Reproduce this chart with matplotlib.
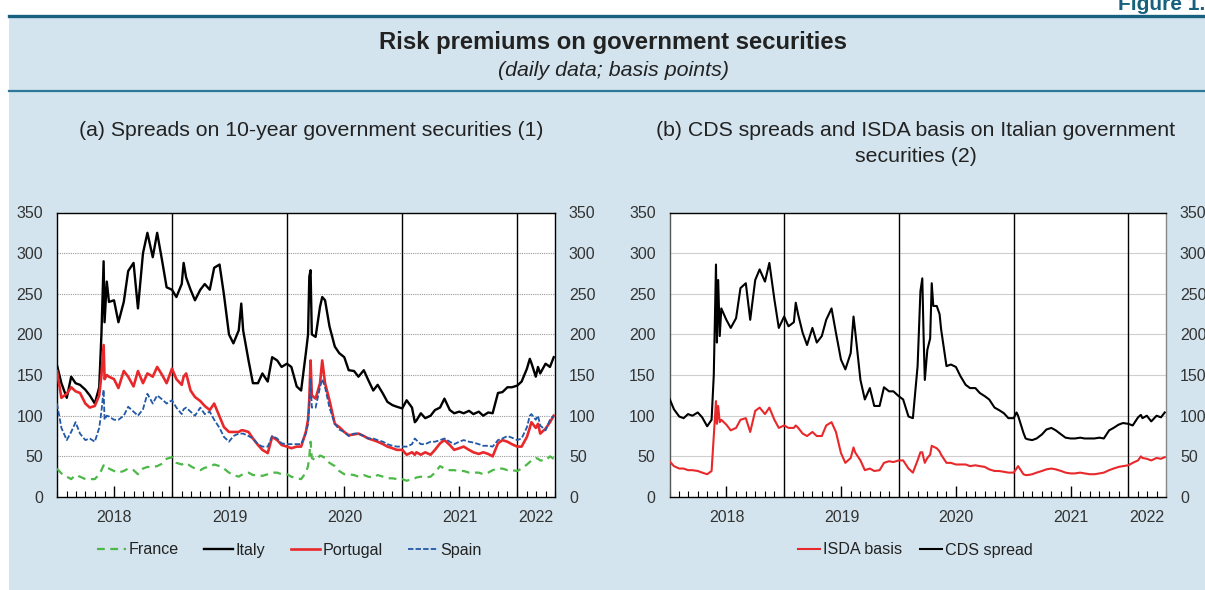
import matplotlib
matplotlib.use('Agg')
import matplotlib.pyplot as plt
import matplotlib.dates as mdates
import matplotlib.transforms as mtransforms
from matplotlib.patches import Rectangle
from matplotlib.lines import Line2D
import pandas as pd

plt.rcParams['font.family'] = ['Liberation Sans', 'DejaVu Sans']

# ---------------- data ----------------
dates_a = [
    "2018-01-01", "2018-01-15", "2018-02-01", "2018-02-15", "2018-03-01", "2018-03-15", "2018-04-01",
    "2018-04-15", "2018-05-01", "2018-05-15", "2018-05-22", "2018-05-29", "2018-06-01", "2018-06-08",
    "2018-06-15", "2018-07-01", "2018-07-15", "2018-08-01", "2018-08-15", "2018-09-01", "2018-09-15",
    "2018-10-01", "2018-10-15", "2018-11-01", "2018-11-15", "2018-12-01", "2018-12-15",
    "2019-01-01", "2019-01-15", "2019-02-01", "2019-02-07", "2019-02-15", "2019-03-01", "2019-03-15",
    "2019-04-01", "2019-04-15", "2019-05-01", "2019-05-15", "2019-06-01", "2019-06-15", "2019-07-01",
    "2019-07-15", "2019-08-01", "2019-08-09", "2019-08-15", "2019-09-01", "2019-09-15", "2019-10-01",
    "2019-10-15", "2019-11-01", "2019-11-15", "2019-12-01", "2019-12-15",
    "2020-01-01", "2020-01-15", "2020-02-01", "2020-02-15", "2020-03-01", "2020-03-08", "2020-03-12",
    "2020-03-16", "2020-03-20", "2020-04-01", "2020-04-15", "2020-04-22", "2020-05-01", "2020-05-15",
    "2020-06-01", "2020-06-15", "2020-07-01", "2020-07-15", "2020-08-01", "2020-08-15", "2020-09-01",
    "2020-09-15", "2020-10-01", "2020-10-15", "2020-11-01", "2020-11-15", "2020-12-01", "2020-12-15",
    "2021-01-01", "2021-01-15", "2021-02-01", "2021-02-10", "2021-02-15", "2021-03-01", "2021-03-15",
    "2021-04-01", "2021-04-15", "2021-05-01", "2021-05-15", "2021-06-01", "2021-06-15", "2021-07-01",
    "2021-07-15", "2021-08-01", "2021-08-15", "2021-09-01", "2021-09-15", "2021-10-01", "2021-10-15",
    "2021-11-01", "2021-11-15", "2021-12-01", "2021-12-15",
    "2022-01-01", "2022-01-15", "2022-02-01", "2022-02-10", "2022-02-15", "2022-03-01", "2022-03-08",
    "2022-03-15", "2022-04-01", "2022-04-15", "2022-04-27",
]

italy = [
    162, 140, 122, 148, 140, 138, 132, 125, 115, 135, 200, 290, 215, 265, 240, 242, 215, 240, 278, 288,
    232, 300, 325, 295, 325, 290, 258,
    255, 246, 262, 288, 270, 255, 242, 255, 262, 255, 282, 286, 249, 200, 189, 205, 238, 205, 168, 140,
    140, 152, 142, 172, 168, 160,
    164, 160, 136, 131, 177, 200, 271, 279, 200, 197, 234, 246, 242, 210, 185, 177, 172, 156, 155, 148,
    156, 144, 131, 138, 127, 117, 113, 111,
    109, 119, 110, 92, 94, 103, 97, 100, 107, 110, 121, 107, 103, 105, 103, 106, 102, 105, 100, 104,
    103, 128, 129, 135, 135,
    137, 142, 158, 170, 165, 148, 160, 152, 164, 160, 172,
]

portugal = [
    155, 122, 127, 135, 130, 128, 115, 110, 112, 125, 150, 187, 145, 150, 148, 145, 134, 155, 148, 136,
    155, 140, 152, 148, 160, 150, 140,
    158, 145, 138, 148, 152, 131, 123, 118, 112, 107, 115, 99, 86, 80, 80, 80, 82, 82, 80, 72, 64, 58,
    54, 74, 70, 64,
    62, 60, 62, 62, 80, 95, 120, 168, 125, 121, 140, 168, 140, 119, 90, 86, 80, 76, 77, 78, 75, 72, 70,
    68, 65, 62, 60, 58,
    58, 52, 55, 52, 55, 52, 55, 52, 58, 66, 70, 64, 58, 60, 62, 58, 55, 53, 55, 53, 50, 66, 70, 68, 65,
    62, 62, 74, 85, 92, 85, 90, 78, 84, 92, 100,
]

spain = [
    115, 85, 70, 80, 92, 78, 70, 72, 68, 85, 105, 132, 95, 100, 99, 95, 95, 100, 111, 105, 100, 108,
    127, 115, 125, 120, 115,
    119, 110, 102, 108, 110, 105, 100, 110, 102, 105, 95, 85, 74, 68, 75, 78, 78, 78, 75, 72, 65, 62,
    62, 75, 72, 66,
    65, 65, 65, 65, 78, 90, 115, 146, 110, 110, 135, 145, 135, 110, 90, 83, 80, 75, 78, 78, 75, 72, 72,
    70, 68, 65, 63, 62,
    62, 62, 65, 72, 70, 65, 65, 68, 68, 70, 72, 68, 65, 68, 70, 68, 67, 65, 63, 63, 62, 70, 72, 75, 73,
    70, 72, 86, 100, 102, 95, 100, 88, 82, 95, 100,
]

france = [
    35, 29, 25, 22, 27, 25, 22, 22, 22, 28, 33, 39, 36, 36, 35, 32, 30, 32, 35, 33, 28, 35, 37, 37, 38,
    41, 47,
    49, 42, 40, 41, 42, 38, 35, 33, 36, 37, 40, 38, 35, 30, 27, 25, 27, 28, 30, 27, 27, 26, 28, 30, 30,
    28,
    28, 25, 23, 22, 30, 38, 50, 68, 48, 45, 51, 50, 48, 42, 38, 32, 28, 28, 27, 25, 27, 25, 24, 27, 25,
    23, 23, 22,
    22, 20, 22, 23, 24, 25, 24, 25, 30, 38, 35, 33, 33, 32, 32, 30, 30, 30, 28, 30, 33, 35, 35, 33, 33,
    32, 35, 40, 43, 45, 48, 47, 45, 45, 50, 47,
]

dates_b = [
    "2018-01-01", "2018-01-15", "2018-02-01", "2018-02-15", "2018-03-01", "2018-03-15", "2018-04-01",
    "2018-04-15", "2018-05-01", "2018-05-15", "2018-05-22", "2018-05-29", "2018-06-01", "2018-06-05",
    "2018-06-10", "2018-06-15", "2018-07-01", "2018-07-15", "2018-08-01", "2018-08-15", "2018-09-01",
    "2018-09-15", "2018-10-01", "2018-10-15", "2018-11-01", "2018-11-15", "2018-12-01", "2018-12-15",
    "2019-01-01", "2019-01-15", "2019-02-01", "2019-02-07", "2019-02-15", "2019-03-01", "2019-03-15",
    "2019-04-01", "2019-04-15", "2019-05-01", "2019-05-15", "2019-06-01", "2019-06-15", "2019-07-01",
    "2019-07-15", "2019-08-01", "2019-08-10", "2019-08-15", "2019-09-01", "2019-09-15", "2019-10-01",
    "2019-10-15", "2019-11-01", "2019-11-15", "2019-12-01", "2019-12-15",
    "2020-01-01", "2020-01-15", "2020-02-01", "2020-02-15", "2020-03-01", "2020-03-10", "2020-03-16",
    "2020-03-20", "2020-03-24", "2020-04-01", "2020-04-10", "2020-04-15", "2020-04-20", "2020-05-01",
    "2020-05-10", "2020-05-15", "2020-06-01", "2020-06-15", "2020-07-01", "2020-07-15", "2020-08-01",
    "2020-08-15", "2020-09-01", "2020-09-15", "2020-10-01", "2020-10-15", "2020-11-01", "2020-11-15",
    "2020-12-01", "2020-12-15",
    "2021-01-01", "2021-01-10", "2021-01-15", "2021-02-01", "2021-02-08", "2021-02-15", "2021-03-01",
    "2021-03-15", "2021-04-01", "2021-04-15", "2021-05-01", "2021-05-15", "2021-06-01", "2021-06-15",
    "2021-07-01", "2021-07-15", "2021-08-01", "2021-08-15", "2021-09-01", "2021-09-15", "2021-10-01",
    "2021-10-15", "2021-11-01", "2021-11-15", "2021-12-01", "2021-12-15",
    "2022-01-01", "2022-01-15", "2022-02-01", "2022-02-10", "2022-02-15", "2022-03-01", "2022-03-15",
    "2022-04-01", "2022-04-15", "2022-04-27",
]

cds_spread = [
    121, 108, 99, 97, 102, 100, 104, 98, 87, 95, 150, 286, 190, 267, 198, 232, 218, 208, 220, 257, 263,
    218, 267, 280, 265, 288, 243, 208,
    222, 210, 215, 239, 224, 202, 187, 208, 190, 198, 218, 232, 202, 169, 157, 177, 222, 205, 144, 120,
    134, 112, 112, 135, 130, 130,
    124, 120, 99, 97, 161, 253, 269, 200, 144, 181, 195, 263, 235, 235, 225, 206, 161, 163, 160, 149,
    138, 134, 134, 128, 124, 120, 110, 107, 103, 97,
    97, 104, 100, 79, 72, 71, 70, 72, 77, 83, 85, 82, 77, 73, 72, 72, 73, 72, 72, 72, 73, 72, 82, 85,
    89, 91,
    90, 88, 98, 101, 97, 100, 93, 100, 98, 104,
]

isda_basis = [
    44, 38, 35, 35, 33, 33, 32, 30, 28, 32, 75, 118, 90, 112, 92, 95, 89, 82, 85, 95, 97, 80, 106, 110,
    102, 110, 95, 85,
    88, 85, 85, 88, 85, 78, 75, 80, 75, 75, 88, 92, 80, 54, 42, 48, 61, 55, 45, 33, 35, 32, 33, 42, 44,
    43,
    45, 45, 35, 30, 45, 55, 55, 48, 42, 48, 52, 63, 62, 60, 56, 52, 42, 42, 40, 40, 40, 38, 39, 38, 37,
    34, 32, 32, 31, 30,
    30, 35, 38, 28, 27, 27, 28, 30, 32, 34, 35, 34, 32, 30, 29, 29, 30, 29, 28, 28, 29, 30, 33, 35, 37,
    38,
    39, 42, 45, 50, 48, 47, 45, 48, 47, 49,
]

years = [2018, 2019, 2020, 2021, 2022]
year_labels = ["2018", "2019", "2020", "2021", "2022"]
y_ticks = [0, 50, 100, 150, 200, 250, 300, 350]

title = "Risk premiums on government securities"
subtitle = "(daily data; basis points)"
title_a = "(a) Spreads on 10-year government securities (1)"
title_b = "(b) CDS spreads and ISDA basis on Italian government\nsecurities (2)"

# ---------------- styling ----------------
BG = '#d3e4ee'
TEAL = '#17617f'
TEAL2 = '#2d7898'
TXT = '#333333'
RED = '#e8282b'
GREEN = '#4cb848'
BLUE = '#2158a8'

W, H = 1205, 590
fig = plt.figure(figsize=(W / 100, H / 100), dpi=100, facecolor='white')

# background panel and rules
fig.patches.append(Rectangle((9 / W, 0), 1 - 9 / W, 1 - 17 / H, transform=fig.transFigure,
                             facecolor=BG, edgecolor='none', zorder=-10))
fig.add_artist(Line2D([9 / W, 1], [1 - 15.5 / H] * 2, color=TEAL, lw=2.4, transform=fig.transFigure))
fig.add_artist(Line2D([9 / W, 1], [1 - 90.5 / H] * 2, color=TEAL2, lw=1.6, transform=fig.transFigure))

fig.text(1118 / W, 1 - 10 / H, "Figure 1.", color=TEAL, fontsize=15, fontweight='bold',
         ha='left', va='baseline')
fig.text(613 / W, 1 - 42 / H, title, fontsize=17.2, fontweight='bold', color='#222222',
         ha='center', va='center')
fig.text(614 / W, 1 - 70 / H, subtitle, fontsize=15.4, style='italic', color='#222222',
         ha='center', va='center')

fig.text(311 / W, 1 - 130 / H, title_a, fontsize=15.3, color='#222222', ha='center', va='center')
fig.text(916 / W, 1 - 143.5 / H, title_b, fontsize=15.3, color='#222222', ha='center', va='center',
         linespacing=1.5)

xmin = pd.Timestamp("2018-01-01")
xmax = pd.Timestamp("2022-05-01")

ax_a = fig.add_axes([57 / W, 1 - 497 / H, 498 / W, 284.5 / H])
ax_b = fig.add_axes([669.5 / W, 1 - 497 / H, 496.5 / W, 284.5 / H])


def style_panel(ax, grid_kw, spine_colors):
    ax.set_facecolor('white')
    ax.set_xlim(xmin, xmax)
    ax.set_ylim(0, 350)
    ax.set_yticks(y_ticks)
    ax.tick_params(axis='y', length=0, pad=10, labelsize=11.5, labelcolor=TXT)
    ax.xaxis.set_major_locator(mdates.MonthLocator(bymonth=7, bymonthday=1))
    ax.xaxis.set_minor_locator(mdates.MonthLocator())
    ax.tick_params(axis='x', which='major', direction='in', length=8, width=1, labelbottom=False)
    ax.tick_params(axis='x', which='minor', direction='in', length=4, width=0.8)
    for v in y_ticks[1:-1]:
        ax.axhline(v, zorder=1, **grid_kw)
    for side, c in spine_colors.items():
        ax.spines[side].set_color(c)
        ax.spines[side].set_linewidth(1.0)
    for yr in years[1:]:
        ax.axvline(pd.Timestamp(f"{yr}-01-01"), color='black', lw=1.0, zorder=1.5)
    # year labels centred on each visible year
    trans = mtransforms.blended_transform_factory(ax.transData, ax.transAxes)
    for yr, lab in zip(years, year_labels):
        a = max(pd.Timestamp(f"{yr}-01-01"), xmin)
        b = min(pd.Timestamp(f"{yr + 1}-01-01"), xmax)
        mid = mdates.date2num(a + (b - a) / 2)
        ax.annotate(lab, xy=(mid, 0), xycoords=trans, xytext=(0, -9), textcoords='offset points',
                    ha='center', va='top', fontsize=11.5, color=TXT, annotation_clip=False)
    tw = ax.twinx()
    tw.set_ylim(0, 350)
    tw.set_yticks(y_ticks)
    tw.tick_params(axis='y', length=0, pad=10, labelsize=11.5, labelcolor=TXT)
    for s in tw.spines.values():
        s.set_visible(False)
    return tw


style_panel(ax_a, dict(color='#9a9a9a', lw=0.8, ls=(0, (1, 1))),
            {'left': 'black', 'right': 'black', 'top': 'black', 'bottom': 'black'})
style_panel(ax_b, dict(color='#cfcfcf', lw=0.8, ls='-'),
            {'left': '#555555', 'right': '#888888', 'top': 'black', 'bottom': 'black'})

da = pd.to_datetime(dates_a)
db = pd.to_datetime(dates_b)

l_it, = ax_a.plot(da, italy, color='black', lw=1.7, zorder=3, label='Italy')
l_pt, = ax_a.plot(da, portugal, color=RED, lw=1.9, zorder=3, label='Portugal')
l_es, = ax_a.plot(da, spain, color=BLUE, lw=1.3, ls=(0, (3, 1.2)), zorder=4, label='Spain')
l_fr, = ax_a.plot(da, france, color=GREEN, lw=1.6, ls=(0, (3.5, 2.5)), zorder=4, label='France')

l_isda, = ax_b.plot(db, isda_basis, color=RED, lw=1.5, zorder=3, label='ISDA basis')
l_cds, = ax_b.plot(db, cds_spread, color='black', lw=1.5, zorder=3, label='CDS spread')

fig.legend(handles=[l_fr, l_it, l_pt, l_es], loc='center', bbox_to_anchor=(289 / W, 1 - 550 / H),
           ncol=4, frameon=False, fontsize=11.6, handlelength=1.8, handletextpad=0.15,
           columnspacing=1.6, labelcolor='#222222')
fig.legend(handles=[l_isda, l_cds], loc='center', bbox_to_anchor=(915 / W, 1 - 550 / H),
           ncol=2, frameon=False, fontsize=11.6, handlelength=1.4, handletextpad=0.15,
           columnspacing=1.1, labelcolor='#222222')

fig.savefig('out.png', dpi=100, facecolor=fig.get_facecolor())
